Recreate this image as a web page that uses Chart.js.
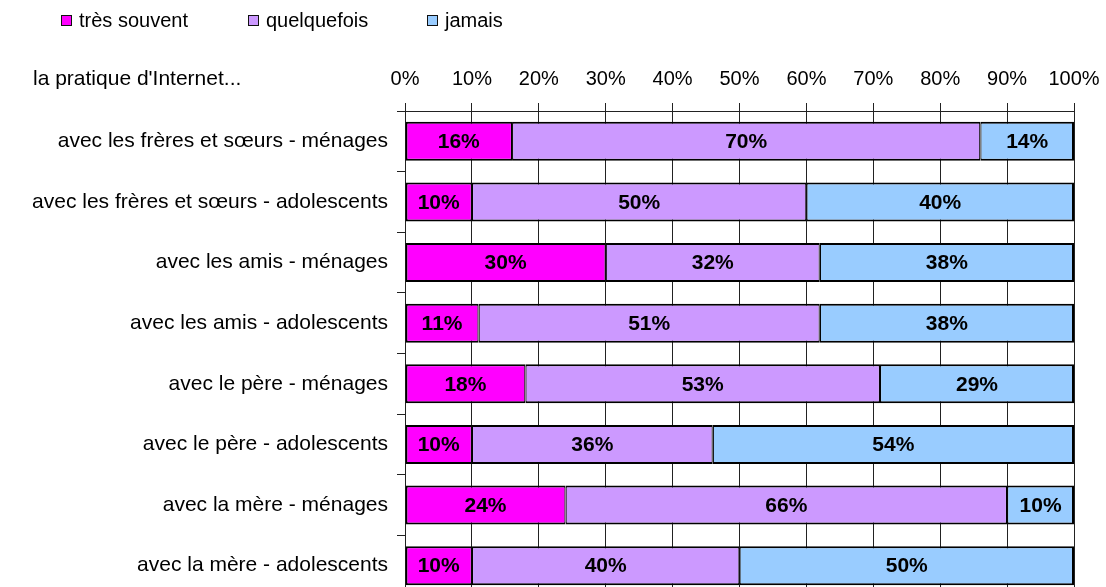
<!DOCTYPE html>
<html>
<head>
<meta charset="utf-8">
<script src="https://cdn.jsdelivr.net/npm/chart.js@4/dist/chart.umd.min.js"></script>
<style>
  html, body { margin: 0; padding: 0; background: #fff; overflow: hidden; }
  #wrap { position: relative; width: 1106px; height: 600px; }
  #myChart { position: absolute; left: 0; top: 0; }
  .txt { position: absolute; font-family: "Liberation Sans", Arial, sans-serif; font-size: 20px; color: #000; white-space: nowrap; line-height: 20px; }
  .box { display: inline-block; width: 9px; height: 9px; border: 1px solid #111; margin-right: 7px; vertical-align: 1px; }
</style>
</head>
<body>
<div id="wrap">
  <canvas id="myChart" width="1106" height="600"></canvas>
  <div class="txt" style="left:61px; top:10px;"><span class="box" style="background:#FF00FF"></span>très souvent</div>
  <div class="txt" style="left:248px; top:10px;"><span class="box" style="background:#CC99FF"></span>quelquefois</div>
  <div class="txt" style="left:427px; top:10px;"><span class="box" style="background:#99CCFF"></span>jamais</div>
  <div class="txt" style="left:33px; top:68px; font-size:21px;">la pratique d'Internet...</div>
</div>
<script>
const categories = [
    'avec les frères et sœurs - ménages',
    'avec les frères et sœurs - adolescents',
    'avec les amis - ménages',
    'avec les amis - adolescents',
    'avec le père - ménages',
    'avec le père - adolescents',
    'avec la mère - ménages',
    'avec la mère - adolescents'
];
const tresSouvent = [16, 10, 30, 11, 18, 10, 24, 10];
const quelquefois = [70, 50, 32, 51, 53, 36, 66, 40];
const jamais = [14, 40, 38, 38, 29, 54, 10, 50];

const ctx = document.getElementById('myChart');

// write the % inside each bar segment
const barLabels = {
    id: 'barLabels',
    afterDatasetsDraw(chart) {
        const c = chart.ctx;
        c.save();
        c.font = 'bold 21px "Liberation Sans", Arial, sans-serif';
        c.fillStyle = '#000';
        c.textAlign = 'center';
        c.textBaseline = 'middle';
        chart.data.datasets.forEach((ds, i) => {
            chart.getDatasetMeta(i).data.forEach((bar, j) => {
                const p = bar.getCenterPoint();
                c.fillText(ds.data[j] + '%', p.x, p.y + 1);
            });
        });
        c.restore();
    }
};

function serie(label, data, color, idx, last) {
    return {
        label: label,
        data: data,
        backgroundColor: color,
        borderColor: '#000',
        borderWidth: { top: 2, bottom: 2, left: idx === 0 ? 2 : 1.2, right: last ? 2 : 1.2 },
        borderSkipped: false,
        barPercentage: 0.645,
        categoryPercentage: 1
    };
}

new Chart(ctx, {
    type: 'bar',
    data: {
        labels: categories,
        datasets: [
            serie('très souvent', tresSouvent, '#FF00FF', 0, false),
            serie('quelquefois', quelquefois, '#CC99FF', 1, false),
            serie('jamais', jamais, '#99CCFF', 2, true)
        ]
    },
    plugins: [barLabels],
    options: {
        indexAxis: 'y',
        responsive: false,
        animation: false,
        layout: { padding: { top: 66, right: 32, bottom: 4, left: 0 } },
        plugins: {
            legend: { display: false },
            tooltip: { enabled: false }
        },
        scales: {
            x: {
                position: 'top',
                stacked: true,
                min: 0,
                max: 100,
                ticks: {
                    stepSize: 10,
                    callback: v => v + '%',
                    color: '#000',
                    padding: 12,
                    maxRotation: 0,
                    font: { family: '"Liberation Sans", Arial, sans-serif', size: 20 }
                },
                grid: { color: '#222', lineWidth: 1, tickLength: 8 },
                border: { color: '#222' },
                afterFit(scale) {
                    scale.height = 45;
                    scale.paddingLeft = 0;
                    scale.paddingRight = 0;
                }
            },
            y: {
                stacked: true,
                ticks: {
                    color: '#000',
                    padding: 9,
                    font: { family: '"Liberation Sans", Arial, sans-serif', size: 21 }
                },
                grid: { drawOnChartArea: false, tickLength: 8, color: '#222', offset: true },
                border: { color: '#222' },
                afterFit(scale) {
                    scale.width = 405;
                    scale.paddingTop = 0;
                    scale.paddingBottom = 0;
                }
            }
        }
    }
});
</script>
</body>
</html>
